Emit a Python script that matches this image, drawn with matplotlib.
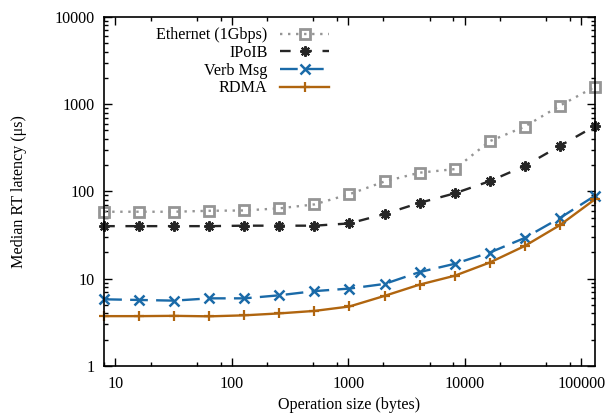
import numpy as np
import matplotlib
matplotlib.use("Agg")
import matplotlib.pyplot as plt
from matplotlib.ticker import LogLocator, NullFormatter, FixedLocator

# operation sizes (bytes)
sizes = [8, 16, 32, 64, 128, 256, 512, 1024, 2048, 4096, 8192, 16384, 32768, 65536, 131072]

# median round-trip latency (us)
ethernet = [58.5, 58.5, 58.5, 60, 60.5, 64, 71, 93, 130, 164, 180, 376, 553, 960, 1580]
ipoib = [40, 40, 40, 40, 40.5, 40.5, 40.5, 43, 55, 74, 95, 131, 196, 332, 560]
verb_msg = [5.8, 5.7, 5.6, 5.95, 5.95, 6.45, 7.2, 7.7, 8.7, 11.9, 14.8, 19.9, 29.3, 49.5, 89]
rdma = [3.72, 3.72, 3.75, 3.7, 3.8, 4.0, 4.27, 4.8, 6.35, 8.55, 10.8, 15.3, 23.7, 41, 81]

labels = ["Ethernet (1Gbps)", "IPoIB", "Verb Msg", "RDMA"]

plt.rcParams['font.family'] = ['Liberation Serif', 'DejaVu Serif']
plt.rcParams['font.size'] = 11.6

fig = plt.figure(figsize=(6.11, 4.13), dpi=100)
ax = fig.add_axes([0.1705, 0.114, 0.803, 0.845])

ax.plot(sizes, ethernet, color='#959595', linestyle=(0, (1, 2.4)), linewidth=1.7,
        marker='s', markersize=6.5, markerfacecolor='none', markeredgewidth=2,
        label=labels[0], clip_on=False)
ax.plot(sizes, ipoib, color='#262626', linestyle=(0, (4.5, 4.5)), linewidth=1.7,
        marker=(8, 2, 0), markersize=7.5, markeredgewidth=1.5,
        label=labels[1], clip_on=False)
ax.plot(sizes, verb_msg, color='#1a6aa8', linestyle=(0, (7.5, 3.5)), linewidth=1.7,
        marker='x', markersize=6.5, markeredgewidth=1.8,
        label=labels[2], clip_on=False)
ax.plot(sizes, rdma, color='#b0650f', linestyle='-', linewidth=1.7,
        marker='+', markersize=6.5, markeredgewidth=1.6,
        label=labels[3], clip_on=False)

ax.set_xscale('log')
ax.set_yscale('log')
ax.set_xlim(8, 131072)
ax.set_ylim(1, 10000)

ax.xaxis.set_major_locator(FixedLocator([10, 100, 1000, 10000, 100000]))
ax.xaxis.set_minor_locator(LogLocator(base=10, subs=[2, 5, 8]))
ax.xaxis.set_minor_formatter(NullFormatter())
ax.set_xticklabels(["10", "100", "1000", "10000", "100000"])
ax.yaxis.set_major_locator(FixedLocator([1, 10, 100, 1000, 10000]))
ax.yaxis.set_minor_locator(LogLocator(base=10, subs=np.arange(2, 10)))
ax.yaxis.set_minor_formatter(NullFormatter())
ax.set_yticklabels(["1", "10", "100", "1000", "10000"])

ax.tick_params(which='both', direction='in', top=True, right=True, width=1)
ax.tick_params(which='major', length=6, pad=7)
ax.tick_params(which='minor', length=3)
for s in ax.spines.values():
    s.set_linewidth(1.2)

ax.set_xlabel("Operation size (bytes)", labelpad=4)
ax.set_ylabel("Median RT latency (\u03bcs)", labelpad=20)

ax.legend(loc='upper left', bbox_to_anchor=(0.085, 1.0), frameon=False,
          markerfirst=False, handlelength=3.0, handletextpad=0.8,
          labelspacing=0.1, borderaxespad=0.25)

plt.savefig("out.png", dpi=100)
